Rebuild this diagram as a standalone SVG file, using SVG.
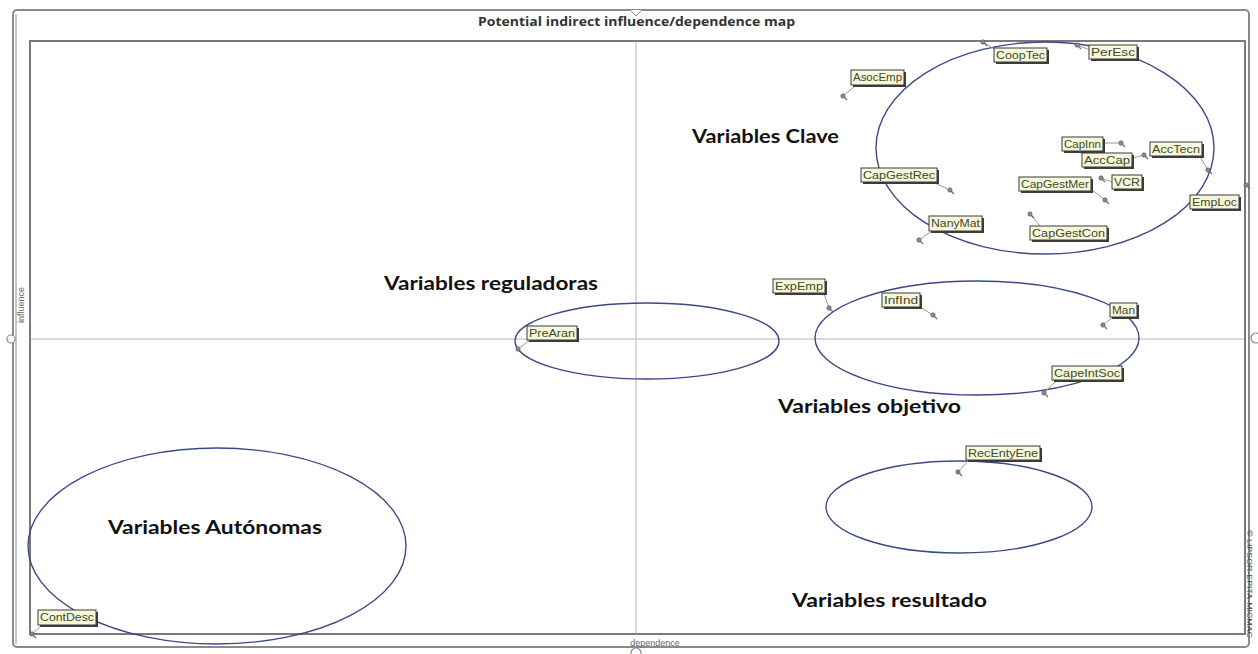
<svg xmlns="http://www.w3.org/2000/svg" width="1258" height="654" viewBox="0 0 1258 654">
  <style>
    .frame{fill:none;stroke:#8a8a8a;stroke-width:2}
    .axis{stroke:#b4b4b4;stroke-width:1}
    .ell{fill:none;stroke:#3a4a86;stroke-width:1.4}
    .grp{font-family:Lato,"Open Sans","DejaVu Sans",sans-serif;font-weight:bold;font-size:18px;fill:#111}
    .lbl rect.sh{fill:#3c3c3c}
    .lbl rect.bx{fill:#f7f7dc;stroke:#3a3a3a;stroke-width:1}
    .lbl text{font-family:"Liberation Sans",Arial,sans-serif;font-size:10.5px;fill:#3f4a2a}
    .lead{stroke:#9a9a9a;stroke-width:1}
    .pin{fill:#8a8a8a;stroke:#555;stroke-width:0.6}
    .small{font-family:"Liberation Sans",Arial,sans-serif;font-size:9px;fill:#666}
  </style>
  <defs>
    <g id="pinmark">
      <circle class="pin" cx="0" cy="0" r="2.2"/>
      <path d="M1.2 1.2 L4 4" stroke="#666" stroke-width="1.2"/>
    </g>
  </defs>

  <rect x="0" y="0" width="1258" height="654" fill="#ffffff"/>

  <!-- window frame and plot area -->
  <g id="frame">
    <rect class="frame" x="13" y="10" width="1236" height="637" rx="4"/>
    <line x1="16" y1="14" x2="16" y2="644" stroke="#c8c8c8" stroke-width="2"/>
    <rect x="30" y="41" width="1215" height="593" fill="none" stroke="#7a7a7a" stroke-width="2"/>
    <path d="M630 10 L636 16 L642 10" fill="#ffffff" stroke="#8a8a8a" stroke-width="1"/>
    <circle cx="1256" cy="338" r="5" fill="#ffffff" stroke="#8a8a8a" stroke-width="1.2"/>
    <circle cx="636" cy="653" r="5" fill="#ffffff" stroke="#8a8a8a" stroke-width="1.2"/>
    <circle cx="11" cy="339" r="4" fill="#ffffff" stroke="#8a8a8a" stroke-width="1.2"/>
    <text x="478" y="26" textLength="317" lengthAdjust="spacingAndGlyphs" font-family="'Open Sans','DejaVu Sans',sans-serif" font-size="12.5" font-weight="bold" fill="#333">Potential  indirect influence/dependence map</text>
    <text class="small" x="655" y="646" text-anchor="middle">dependence</text>
    <text class="small" transform="translate(24,305) rotate(-90)" text-anchor="middle" fill="#7a7a50">influence</text>
    <text transform="translate(1247,530) rotate(90)" textLength="108" lengthAdjust="spacingAndGlyphs" font-family="'Liberation Sans',Arial,sans-serif" font-size="7.5" fill="#444">© LIPSOR-EPITA-MICMAC</text>
  </g>

  <!-- quadrant axes -->
  <g id="axes">
    <line class="axis" x1="636" y1="42" x2="636" y2="634"/>
    <line class="axis" x1="31" y1="339" x2="1244" y2="339"/>
  </g>

  <!-- group ellipses -->
  <g id="groups">
    <ellipse id="g-clave" class="ell" cx="1045" cy="148" rx="169" ry="106"/>
    <ellipse id="g-reguladoras" class="ell" cx="647" cy="341" rx="132" ry="38"/>
    <ellipse id="g-objetivo" class="ell" cx="977" cy="338" rx="162" ry="57"/>
    <ellipse id="g-resultado" class="ell" cx="959" cy="507" rx="133" ry="46"/>
    <ellipse id="g-autonomas" class="ell" cx="217" cy="546" rx="189" ry="98"/>
  </g>

  <g id="group-titles">
    <text class="grp" x="692" y="143" textLength="147" lengthAdjust="spacingAndGlyphs">Variables Clave</text>
    <text class="grp" x="384" y="290" textLength="214" lengthAdjust="spacingAndGlyphs">Variables reguladoras</text>
    <text class="grp" x="778" y="413" textLength="183" lengthAdjust="spacingAndGlyphs">Variables objetivo</text>
    <text class="grp" x="108" y="534" textLength="214" lengthAdjust="spacingAndGlyphs">Variables Autónomas</text>
    <text class="grp" x="792" y="607" textLength="195" lengthAdjust="spacingAndGlyphs">Variables resultado</text>
  </g>

  <!-- leader lines from variable points to their labels -->
  <g id="connectors">
    <line class="lead" x1="983" y1="42" x2="996" y2="50"/>
    <line class="lead" x1="1077" y1="45" x2="1090" y2="50"/>
    <line class="lead" x1="843" y1="96" x2="855" y2="86"/>
    <line class="lead" x1="1121" y1="143" x2="1103" y2="143"/>
    <line class="lead" x1="1208" y1="170" x2="1200" y2="157"/>
    <line class="lead" x1="1144" y1="155" x2="1133" y2="158"/>
    <line class="lead" x1="950" y1="190" x2="935" y2="183"/>
    <line class="lead" x1="1105" y1="200" x2="1092" y2="190"/>
    <line class="lead" x1="1101" y1="178" x2="1112" y2="182"/>
    <line class="lead" x1="919" y1="240" x2="932" y2="231"/>
    <line class="lead" x1="1030" y1="214" x2="1040" y2="226"/>
    <line class="lead" x1="829" y1="308" x2="824" y2="294"/>
    <line class="lead" x1="933" y1="315" x2="920" y2="307"/>
    <line class="lead" x1="1103" y1="325" x2="1113" y2="317"/>
    <line class="lead" x1="518" y1="349" x2="530" y2="340"/>
    <line class="lead" x1="1044" y1="393" x2="1056" y2="381"/>
    <line class="lead" x1="958" y1="472" x2="968" y2="461"/>
    <line class="lead" x1="32" y1="634" x2="42" y2="625"/>
  </g>

  <!-- variable points -->
  <g id="points">
    <use href="#pinmark" x="983" y="42"/>
    <use href="#pinmark" x="1077" y="45"/>
    <use href="#pinmark" x="843" y="96"/>
    <use href="#pinmark" x="1121" y="143"/>
    <use href="#pinmark" x="1208" y="170"/>
    <use href="#pinmark" x="1144" y="155"/>
    <use href="#pinmark" x="950" y="190"/>
    <use href="#pinmark" x="1105" y="200"/>
    <use href="#pinmark" x="1101" y="178"/>
    <use href="#pinmark" x="1246" y="185"/>
    <use href="#pinmark" x="919" y="240"/>
    <use href="#pinmark" x="1030" y="214"/>
    <use href="#pinmark" x="829" y="308"/>
    <use href="#pinmark" x="933" y="315"/>
    <use href="#pinmark" x="1103" y="325"/>
    <use href="#pinmark" x="518" y="349"/>
    <use href="#pinmark" x="1044" y="393"/>
    <use href="#pinmark" x="958" y="472"/>
    <use href="#pinmark" x="32" y="634"/>
  </g>

  <!-- variable labels -->
  <g id="n-CoopTec" class="lbl"><rect class="sh" x="996" y="50" width="53" height="14"/><rect class="bx" x="994" y="48" width="53" height="14"/><text x="996" y="59" textLength="49" lengthAdjust="spacingAndGlyphs">CoopTec</text></g>
  <g id="n-PerEsc" class="lbl"><rect class="sh" x="1091" y="47" width="48" height="14"/><rect class="bx" x="1089" y="45" width="48" height="14"/><text x="1091" y="56" textLength="44" lengthAdjust="spacingAndGlyphs">PerEsc</text></g>
  <g id="n-AsocEmp" class="lbl"><rect class="sh" x="853" y="72" width="53" height="15"/><rect class="bx" x="851" y="70" width="53" height="15"/><text x="853" y="81" textLength="49" lengthAdjust="spacingAndGlyphs">AsocEmp</text></g>
  <g id="n-CapInn" class="lbl"><rect class="sh" x="1064" y="139" width="41" height="14"/><rect class="bx" x="1062" y="137" width="41" height="14"/><text x="1064" y="148" textLength="37" lengthAdjust="spacingAndGlyphs">CapInn</text></g>
  <g id="n-AccTecn" class="lbl"><rect class="sh" x="1152" y="144" width="52" height="14"/><rect class="bx" x="1150" y="142" width="52" height="14"/><text x="1152" y="153" textLength="48" lengthAdjust="spacingAndGlyphs">AccTecn</text></g>
  <g id="n-AccCap" class="lbl"><rect class="sh" x="1084" y="155" width="50" height="14"/><rect class="bx" x="1082" y="153" width="50" height="14"/><text x="1084" y="164" textLength="46" lengthAdjust="spacingAndGlyphs">AccCap</text></g>
  <g id="n-CapGestRec" class="lbl"><rect class="sh" x="863" y="170" width="76" height="14"/><rect class="bx" x="861" y="168" width="76" height="14"/><text x="863" y="179" textLength="72" lengthAdjust="spacingAndGlyphs">CapGestRec</text></g>
  <g id="n-CapGestMer" class="lbl"><rect class="sh" x="1021" y="179" width="72" height="14"/><rect class="bx" x="1019" y="177" width="72" height="14"/><text x="1021" y="188" textLength="68" lengthAdjust="spacingAndGlyphs">CapGestMer</text></g>
  <g id="n-VCR" class="lbl"><rect class="sh" x="1114" y="177" width="30" height="14"/><rect class="bx" x="1112" y="175" width="30" height="14"/><text x="1114" y="186" textLength="26" lengthAdjust="spacingAndGlyphs">VCR</text></g>
  <g id="n-EmpLoc" class="lbl"><rect class="sh" x="1192" y="197" width="49" height="14"/><rect class="bx" x="1190" y="195" width="49" height="14"/><text x="1192" y="206" textLength="45" lengthAdjust="spacingAndGlyphs">EmpLoc</text></g>
  <g id="n-NanyMat" class="lbl"><rect class="sh" x="931" y="218" width="53" height="15"/><rect class="bx" x="929" y="216" width="53" height="15"/><text x="931" y="227" textLength="49" lengthAdjust="spacingAndGlyphs">NanyMat</text></g>
  <g id="n-CapGestCon" class="lbl"><rect class="sh" x="1032" y="228" width="77" height="14"/><rect class="bx" x="1030" y="226" width="77" height="14"/><text x="1032" y="237" textLength="73" lengthAdjust="spacingAndGlyphs">CapGestCon</text></g>
  <g id="n-ExpEmp" class="lbl"><rect class="sh" x="775" y="281" width="52" height="14"/><rect class="bx" x="773" y="279" width="52" height="14"/><text x="775" y="290" textLength="48" lengthAdjust="spacingAndGlyphs">ExpEmp</text></g>
  <g id="n-InfInd" class="lbl"><rect class="sh" x="884" y="295" width="38" height="14"/><rect class="bx" x="882" y="293" width="38" height="14"/><text x="884" y="304" textLength="34" lengthAdjust="spacingAndGlyphs">InfInd</text></g>
  <g id="n-Man" class="lbl"><rect class="sh" x="1112" y="305" width="27" height="14"/><rect class="bx" x="1110" y="303" width="27" height="14"/><text x="1112" y="314" textLength="23" lengthAdjust="spacingAndGlyphs">Man</text></g>
  <g id="n-PreAran" class="lbl"><rect class="sh" x="529" y="328" width="50" height="14"/><rect class="bx" x="527" y="326" width="50" height="14"/><text x="529" y="337" textLength="46" lengthAdjust="spacingAndGlyphs">PreAran</text></g>
  <g id="n-CapeIntSoc" class="lbl"><rect class="sh" x="1054" y="368" width="70" height="14"/><rect class="bx" x="1052" y="366" width="70" height="14"/><text x="1054" y="377" textLength="66" lengthAdjust="spacingAndGlyphs">CapeIntSoc</text></g>
  <g id="n-RecEntyEne" class="lbl"><rect class="sh" x="968" y="448" width="74" height="14"/><rect class="bx" x="966" y="446" width="74" height="14"/><text x="968" y="457" textLength="70" lengthAdjust="spacingAndGlyphs">RecEntyEne</text></g>
  <g id="n-ContDesc" class="lbl"><rect class="sh" x="40" y="612" width="58" height="15"/><rect class="bx" x="38" y="610" width="58" height="15"/><text x="40" y="621" textLength="54" lengthAdjust="spacingAndGlyphs">ContDesc</text></g>
</svg>
